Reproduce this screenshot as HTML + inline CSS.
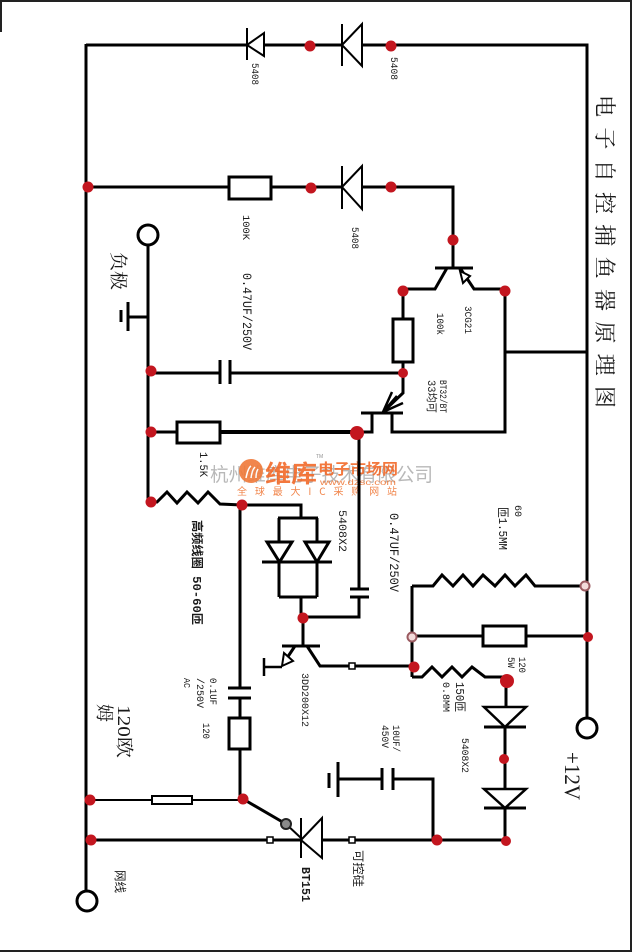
<!DOCTYPE html>
<html><head><meta charset="utf-8"><style>
html,body{margin:0;padding:0;background:#fff}
svg{display:block}
text{font-family:"Liberation Mono","Noto Sans CJK SC",monospace;fill:#1a1a1a}
.cj{font-family:"Liberation Serif","Noto Serif CJK SC",serif}
.b{font-weight:bold}
</style></head><body>
<svg width="632" height="952" viewBox="0 0 632 952" xmlns="http://www.w3.org/2000/svg">
<rect width="632" height="952" fill="#fff"/>
<!-- border -->
<g stroke="#222" fill="none" stroke-width="2">
<path d="M0,1 H632"/><path d="M1,0 V32"/><path d="M631,0 V952"/><path d="M0,951 H632"/>
</g>

<!-- watermark -->
<text x="210" y="481" font-size="19" textLength="223" lengthAdjust="spacingAndGlyphs" style="fill:#b8b8b8;font-family:'Noto Sans CJK SC',sans-serif">杭州维库电子技术有限公司</text>
<g opacity="0.9">
<circle cx="251" cy="471" r="12" fill="#f07a3a"/>
<path d="M246,478 q2,-10 5,-12 M251,478 q1,-8 4,-11 M256,478 q0,-6 2,-9" stroke="#fff" stroke-width="1.5" fill="none"/>
<text x="265" y="482" font-size="24" textLength="52" lengthAdjust="spacingAndGlyphs" style="fill:#f26a2a;font-weight:bold;font-family:'Noto Sans CJK SC',sans-serif">维库</text>
<text x="318" y="474" font-size="15" textLength="80" lengthAdjust="spacingAndGlyphs" style="fill:#f26a2a;font-weight:bold;font-family:'Noto Sans CJK SC',sans-serif">电子市场网</text>
<text x="320" y="485" font-size="8" textLength="76" lengthAdjust="spacingAndGlyphs" style="fill:#f07a3a;font-family:'Liberation Sans',sans-serif">www.dzsc.com</text>
<text x="316" y="458" font-size="5" style="fill:#888;font-family:'Liberation Sans',sans-serif">TM</text>
<text x="237" y="495" font-size="10" textLength="160" lengthAdjust="spacing" style="fill:#f07a3a;font-family:'Noto Sans CJK SC',sans-serif">全球最大IC采购网站</text>
</g>

<!-- main wires -->
<g stroke="#000" stroke-width="3" fill="none" stroke-linejoin="miter">
<path d="M86,45 H247 M264,45 H342 M362,45 H587 V718"/>
<path d="M86,44 V891"/>
<path d="M86,187 H229 M271,187 H342 M362,187 H453 V268"/>
<!-- 3CG21 -->
<path d="M435,268 H473"/>
<path d="M447,268 L435,289 H403 V319"/>
<path d="M460,268 L474,289 H505 V432 H392 V413"/>
<path d="M505,352 H587"/>
<rect x="393" y="319" width="20" height="43" fill="#fff"/>
<!-- UJT -->
<path d="M361,413 H403"/>
<path d="M372,413 V432 H357"/>
<path d="M403,362 V393 L384,411"/>
<path d="M383,412 L392,392 M383,412 L403,403 M383,412 L397,396" stroke-width="2.5"/>
<!-- cap row -->
<path d="M148,373 H220 M230,373 H403"/>
<path d="M220,360 V384 M230,360 V384"/>
<!-- inner left -->
<path d="M148,245 V502"/>
<path d="M128,317 H148 M128,302 V331 M121,310 V322"/>
<path d="M148,432 H177"/>
<rect x="177" y="422" width="43" height="21" fill="#fff"/>
<path d="M220,432 H357" stroke-width="4"/>
<path d="M359,432 V589 M350,589 H369 M350,597 H369 M359,597 V617 H303"/>
<!-- coil -->
<path d="M151,502 H157 L167,492 L177,503 L187,492 L198,503 L208,492 L220,504 L242,505 H301 V518"/>
<!-- bridge diodes -->
<path d="M278,518 H318 M279,518 V542 M317,518 V542"/>
<polygon points="267,542 292,542 279.5,562" fill="#fff"/>
<polygon points="305,542 329,542 317,562" fill="#fff"/>
<path d="M262,562 H332"/>
<path d="M279,562 V597 M317,562 V597 M279,597 H317 M301,597 V618"/>
<!-- x=240 branch -->
<path d="M240,505 V688 M228,688 H251 M228,698 H251 M240,698 V718"/>
<rect x="229" y="718" width="21" height="31" fill="#fff"/>
<path d="M240,749 V799"/>
<!-- 3DD200 -->
<path d="M303,618 V646 M282,646 H320"/>
<path d="M295,646 L283,664"/>
<path d="M282,667 H264 M264,658 V676" stroke-width="2.5"/>
<path d="M307,646 L320,666 H414"/>
<!-- x=412 -->
<path d="M412,586 V677"/>
<path d="M412,586 H433 L442,575 L453,586 L463,575 L473,586 L483,575 L495,586 L505,575 L515,586 L526,575 L535,586 H585"/>
<path d="M412,636 H483 M526,636 H587"/>
<rect x="483" y="626" width="43" height="20" fill="#fff"/>
<path d="M412,677 H422 L432,667 L442,677 L452,667 L462,677 L472,667 L485,677 H507"/>
<!-- diode chain -->
<path d="M506,681 V707"/>
<polygon points="484,707 526,707 505,727" fill="#fff" stroke-width="2.5"/>
<path d="M484,727 H526 M505,727 V789"/>
<polygon points="484,789 526,789 505,808" fill="#fff" stroke-width="2.5"/>
<path d="M484,808 H526 M505,808 V840"/>
<!-- bottom -->
<path d="M86,840 H301 M322,840 H506"/>
<path d="M433,840 V779 H393 M393,768 V790 M382,768 V790 M382,779 H338 M338,762 V797 M329,773 V788"/>
<path d="M243,799 L286,824"/>
</g>

<!-- thinner parts -->
<g stroke="#000" stroke-width="2" fill="none">
<!-- top diodes -->
<path d="M247,28 V60"/>
<polygon points="247,45 264,33 264,56" fill="#fff"/>
<path d="M342,24 V66"/>
<polygon points="342,45 362,24 362,66" fill="#fff"/>
<path d="M342,166 V209"/>
<polygon points="342,187 362,166 362,209" fill="#fff"/>
<rect x="229" y="177" width="42" height="22" fill="#fff" stroke-width="3"/>
<!-- SCR -->
<path d="M301,818 V858"/>
<polygon points="301,840 322,818 322,858" fill="#fff"/>
<path d="M286,824 L301,838"/>
<!-- thin resistor row -->
<path d="M86,800 H152 M192,800 H243"/>
<rect x="152" y="796" width="40" height="8" fill="#fff"/>
<!-- hollow arrows -->
<polygon points="460,271 470,276 463,283" fill="#fff"/>
<polygon points="282,666 284,653 293,661" fill="#fff"/>
</g>
<!-- small squares -->
<g fill="#fff" stroke="#000" stroke-width="1.5">
<rect x="349" y="663" width="6" height="6"/>
<rect x="267" y="837" width="6" height="6"/>
<rect x="349" y="837" width="6" height="6"/>
</g>
<!-- terminals -->
<g fill="#fff" stroke="#000" stroke-width="3">
<circle cx="148" cy="235" r="10"/>
<circle cx="587" cy="728" r="10"/>
<circle cx="87" cy="901" r="10"/>
</g>
<circle cx="286" cy="824" r="5" fill="#8a8a8a" stroke="#222" stroke-width="2"/>
<g fill="#f3dada" stroke="#9a5a60" stroke-width="2">
<circle cx="412" cy="637" r="4.5"/>
<circle cx="585" cy="586" r="4.5"/>
</g>
<!-- red dots -->
<g fill="#c3161f">
<circle cx="310" cy="46" r="5.5"/><circle cx="391" cy="46" r="5.5"/>
<circle cx="88" cy="187" r="5.5"/><circle cx="311" cy="188" r="5.5"/><circle cx="391" cy="187" r="5.5"/>
<circle cx="453" cy="240" r="5.5"/><circle cx="403" cy="291" r="5.5"/><circle cx="505" cy="291" r="5.5"/>
<circle cx="403" cy="373" r="5"/><circle cx="151" cy="371" r="5.5"/><circle cx="151" cy="432" r="5.5"/>
<circle cx="357" cy="433" r="7"/><circle cx="151" cy="502" r="5.5"/><circle cx="242" cy="505" r="5.5"/>
<circle cx="303" cy="618" r="5.5"/><circle cx="414" cy="667" r="5.5"/><circle cx="588" cy="637" r="5"/>
<circle cx="507" cy="681" r="7"/><circle cx="504" cy="759" r="5"/><circle cx="506" cy="841" r="5"/>
<circle cx="437" cy="840" r="5.5"/><circle cx="91" cy="840" r="5.5"/><circle cx="90" cy="800" r="5.5"/>
<circle cx="243" cy="799" r="5.5"/>
</g>

<!-- labels (rotated 90deg clockwise) -->
<text transform="translate(252,63) rotate(90)" font-size="10" textLength="22" lengthAdjust="spacingAndGlyphs">5408</text>
<text transform="translate(391,57) rotate(90)" font-size="10" textLength="23" lengthAdjust="spacingAndGlyphs">5408</text>
<text transform="translate(243,215) rotate(90)" font-size="10" textLength="25" lengthAdjust="spacingAndGlyphs">100K</text>
<text transform="translate(352,227) rotate(90)" font-size="10" textLength="22" lengthAdjust="spacingAndGlyphs">5408</text>
<text class="cj" transform="translate(112,252) rotate(90)" font-size="18" textLength="38" lengthAdjust="spacingAndGlyphs">负极</text>
<text transform="translate(243,273) rotate(90)" font-size="13" textLength="77" lengthAdjust="spacingAndGlyphs">0.47UF/250V</text>
<text transform="translate(437,313) rotate(90)" font-size="10" textLength="22" lengthAdjust="spacingAndGlyphs">100k</text>
<text transform="translate(465,306) rotate(90)" font-size="10" textLength="28" lengthAdjust="spacingAndGlyphs">3CG21</text>
<text transform="translate(440,380) rotate(90)" font-size="10" textLength="33" lengthAdjust="spacingAndGlyphs">BT32/BT</text>
<text transform="translate(428,380) rotate(90)" font-size="11" textLength="33" lengthAdjust="spacingAndGlyphs">33均可</text>
<text transform="translate(200,452) rotate(90)" font-size="11" textLength="25" lengthAdjust="spacingAndGlyphs">1.5K</text>
<text class="b" transform="translate(193,520) rotate(90)" font-size="12" textLength="105" lengthAdjust="spacingAndGlyphs">高频线圈 50-60匝</text>
<text transform="translate(339,510) rotate(90)" font-size="11" textLength="42" lengthAdjust="spacingAndGlyphs">5408X2</text>
<text transform="translate(390,513) rotate(90)" font-size="13" textLength="79" lengthAdjust="spacingAndGlyphs">0.47UF/250V</text>
<text transform="translate(515,505) rotate(90)" font-size="10" textLength="12" lengthAdjust="spacingAndGlyphs">60</text>
<text transform="translate(499,507) rotate(90)" font-size="12" textLength="43" lengthAdjust="spacingAndGlyphs">匝1.5MM</text>
<text transform="translate(302,673) rotate(90)" font-size="10" textLength="54" lengthAdjust="spacingAndGlyphs">3DD200X12</text>
<text transform="translate(519,657) rotate(90)" font-size="10" textLength="16" lengthAdjust="spacingAndGlyphs">120</text>
<text transform="translate(508,657) rotate(90)" font-size="10" textLength="11" lengthAdjust="spacingAndGlyphs">5W</text>
<text transform="translate(456,682) rotate(90)" font-size="12" textLength="30" lengthAdjust="spacingAndGlyphs">150匝</text>
<text transform="translate(443,682) rotate(90)" font-size="10" textLength="30" lengthAdjust="spacingAndGlyphs">0.8MM</text>
<text transform="translate(210,678) rotate(90)" font-size="10" textLength="27" lengthAdjust="spacingAndGlyphs">0.1UF</text>
<text transform="translate(197,678) rotate(90)" font-size="10" textLength="30" lengthAdjust="spacingAndGlyphs">/250V</text>
<text transform="translate(184,678) rotate(90)" font-size="9" textLength="10" lengthAdjust="spacingAndGlyphs">AC</text>
<text transform="translate(203,723) rotate(90)" font-size="10" textLength="16" lengthAdjust="spacingAndGlyphs">120</text>
<text class="cj" transform="translate(118,705) rotate(90)" font-size="18" textLength="53" lengthAdjust="spacingAndGlyphs">120欧</text>
<text class="cj" transform="translate(98,704) rotate(90)" font-size="18" textLength="18" lengthAdjust="spacingAndGlyphs">姆</text>
<text transform="translate(393,725) rotate(90)" font-size="10" textLength="27" lengthAdjust="spacingAndGlyphs">10UF/</text>
<text transform="translate(382,725) rotate(90)" font-size="10" textLength="23" lengthAdjust="spacingAndGlyphs">450V</text>
<text transform="translate(462,738) rotate(90)" font-size="10" textLength="35" lengthAdjust="spacingAndGlyphs">5408X2</text>
<text class="cj" transform="translate(565,752) rotate(90)" font-size="22" textLength="48" lengthAdjust="spacingAndGlyphs">+12V</text>
<text class="b" transform="translate(302,867) rotate(90)" font-size="12" textLength="35" lengthAdjust="spacingAndGlyphs">BT151</text>
<text transform="translate(354,850) rotate(90)" font-size="12" textLength="37" lengthAdjust="spacingAndGlyphs">可控硅</text>
<text transform="translate(116,870) rotate(90)" font-size="12" textLength="23" lengthAdjust="spacingAndGlyphs">网线</text>
<!-- title -->
<text class="cj" transform="translate(597,95) rotate(90)" font-size="22" textLength="313" lengthAdjust="spacing">电子自控捕鱼器原理图</text>
</svg>
</body></html>
